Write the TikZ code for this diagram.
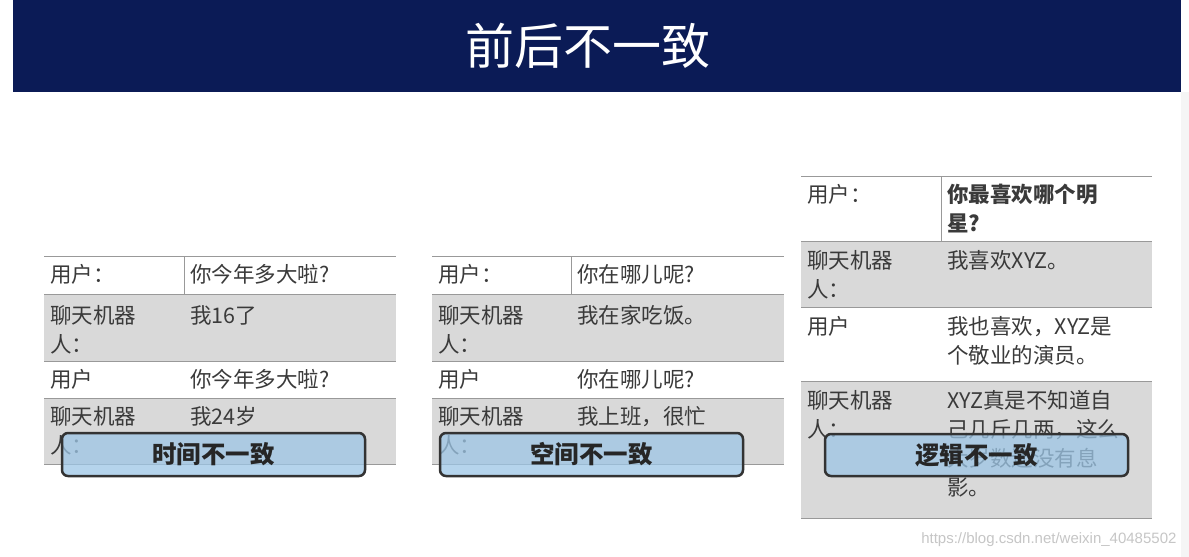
\documentclass[tikz,border=0pt]{standalone}
\usepackage{fontspec}
\setmainfont{Noto Sans CJK SC}
\newfontfamily\wm{Liberation Sans}
\definecolor{navy}{HTML}{0B1B56}
\definecolor{rowgray}{HTML}{D9D9D9}
\definecolor{txt}{HTML}{3A3A3A}
\definecolor{boxblue}{HTML}{9DC6E6}
\begin{document}
\begin{tikzpicture}[x=1pt,y=-1pt,
  cell/.style={anchor=north west,text=txt,font=\fontsize{21.5}{29}\selectfont,inner sep=0pt,align=left},
  rline/.style={draw=gray!80,line width=1pt},
  tag/.style={draw=black!80,line width=2.5pt,rounded corners=6pt,fill=boxblue,fill opacity=0.75,text opacity=1,font=\fontsize{24.5}{26}\selectfont\bfseries,text=black!85}]
\useasboundingbox (0,0) rectangle (1189,557);
\fill[white] (0,0) rectangle (1189,557);
\fill[gray!8] (1181,92) rectangle (1189,557);
\fill[navy] (13,0) rectangle (1181,92);
\node[text=white,font=\fontsize{49}{54}\selectfont] (title) at (588,46) {前后不一致};
\foreach \x/\d/\a/\b/\c/\e in {44/184/你今年多大啦?/我16了/你今年多大啦?/我24岁, 432/571/你在哪儿呢?/我在家吃饭。/你在哪儿呢?/我上班，很忙}{
  \fill[rowgray] (\x,294) rectangle (\x+352,361);
  \fill[rowgray] (\x,398) rectangle (\x+352,464);
  \foreach \yy in {256,294,361,398,464} \draw[rline] (\x,\yy) -- (\x+352,\yy);
  \draw[rline] (\d,256) -- (\d,294);
  \node[cell] at (\x+6,264) {用户：};
  \node[cell] at (\d+6,264) {\a};
  \node[cell] at (\x+6,305) {聊天机器\\人：};
  \node[cell] at (\d+6,305) {\b};
  \node[cell] at (\x+6,369) {用户};
  \node[cell] at (\d+6,369) {\c};
  \node[cell] at (\x+6,406) {聊天机器\\人：};
  \node[cell] at (\d+6,406) {\e};
}
\fill[rowgray] (801,241) rectangle (1152,307);
\fill[rowgray] (801,381) rectangle (1152,518);
\foreach \yy in {176,241,307,381,518} \draw[rline] (801,\yy) -- (1152,\yy);
\draw[rline] (941,176) -- (941,241);
\node[cell] at (807,184) {用户：};
\node[cell,font=\fontsize{21.5}{29}\selectfont\bfseries] at (947,184) {你最喜欢哪个明\\星?};
\node[cell] at (807,250) {聊天机器\\人：};
\node[cell] at (947,250) {我喜欢XYZ。};
\node[cell] at (807,316) {用户};
\node[cell] at (947,316) {我也喜欢，XYZ是\\个敬业的演员。};
\node[cell] at (807,390) {聊天机器\\人：};
\node[cell] at (947,390) {XYZ真是不知道自\\己几斤几两，这么\\大岁数还没有息\\影。};
\node[tag,minimum width=303pt,minimum height=43pt] (t1) at (213.5,454.5) {时间不一致};
\node[tag,minimum width=303pt,minimum height=43pt] (t2) at (591.5,454.5) {空间不一致};
\node[tag,minimum width=303pt,minimum height=42pt] (t3) at (976.5,455) {逻辑不一致};
\node[text=gray!45,font=\wm\fontsize{15}{17}\selectfont,anchor=east] (wmk) at (1180,540) {https://blog.csdn.net/weixin\_40485502};
\end{tikzpicture}
\end{document}
